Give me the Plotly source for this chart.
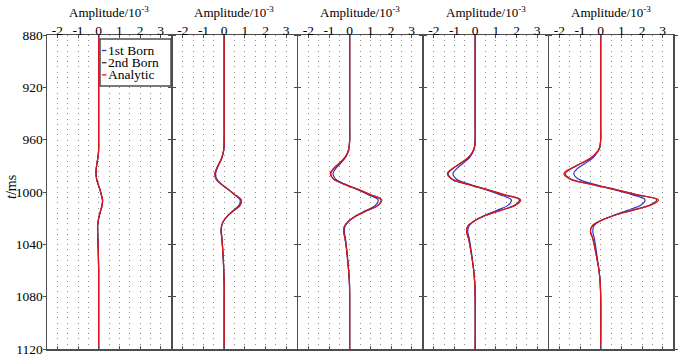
import plotly.graph_objects as go

time_ms = [880, 950, 960, 966, 970, 974, 978, 982, 986, 990, 994, 998, 1002, 1006,
           1010, 1014, 1018, 1022, 1026, 1030, 1036, 1044, 1052, 1060, 1070, 1080, 1120]

x_ticks = [-2, -1, 0, 1, 2, 3]
y_ticks = [880, 920, 960, 1000, 1040, 1080, 1120]
series_names = ["1st Born", "2nd Born", "Analytic"]

# panel 1
born1_p1 = [0, 0, 0, 0, -0.01, -0.04, -0.08, -0.11, -0.12, -0.1, -0.03, 0.06, 0.12, 0.18, 0.16, 0.1, 0.03, -0.02, -0.05, -0.05, -0.04, -0.02, -0.01, 0, 0, 0, 0]
born2_p1 = [0, 0, 0, 0, -0.01, -0.04, -0.08, -0.12, -0.13, -0.1, -0.03, 0.06, 0.13, 0.19, 0.17, 0.1, 0.03, -0.02, -0.05, -0.05, -0.04, -0.02, -0.01, 0, 0, 0, 0]
analytic_p1 = [0, 0, 0, 0, -0.01, -0.04, -0.08, -0.12, -0.13, -0.1, -0.03, 0.06, 0.13, 0.19, 0.17, 0.1, 0.03, -0.02, -0.05, -0.05, -0.04, -0.02, -0.01, 0, 0, 0, 0]
# panel 2
born1_p2 = [0, 0, 0, -0.01, -0.04, -0.11, -0.22, -0.34, -0.41, -0.36, -0.13, 0.19, 0.49, 0.77, 0.72, 0.45, 0.17, -0.02, -0.12, -0.14, -0.1, -0.07, -0.04, -0.02, 0, 0, 0]
born2_p2 = [0, 0, 0, -0.01, -0.05, -0.12, -0.24, -0.36, -0.44, -0.39, -0.15, 0.2, 0.51, 0.82, 0.77, 0.48, 0.18, -0.02, -0.13, -0.15, -0.11, -0.07, -0.04, -0.02, 0, 0, 0]
analytic_p2 = [0, 0, 0, -0.01, -0.05, -0.12, -0.24, -0.37, -0.45, -0.4, -0.15, 0.2, 0.52, 0.83, 0.78, 0.48, 0.18, -0.02, -0.13, -0.15, -0.11, -0.07, -0.04, -0.02, 0, 0, 0]
# panel 3
born1_p3 = [0, 0, 0, -0.03, -0.09, -0.22, -0.43, -0.67, -0.81, -0.69, -0.24, 0.36, 0.9, 1.38, 1.26, 0.8, 0.32, -0.02, -0.22, -0.26, -0.2, -0.14, -0.09, -0.05, -0.01, 0, 0]
born2_p3 = [0, 0, 0, -0.03, -0.1, -0.25, -0.49, -0.76, -0.92, -0.78, -0.27, 0.4, 0.99, 1.52, 1.38, 0.87, 0.35, -0.02, -0.25, -0.29, -0.22, -0.15, -0.1, -0.05, -0.01, 0, 0]
analytic_p3 = [0, 0, 0, -0.03, -0.1, -0.25, -0.5, -0.78, -0.94, -0.8, -0.28, 0.4, 1.0, 1.55, 1.4, 0.88, 0.35, -0.02, -0.25, -0.29, -0.22, -0.15, -0.1, -0.05, -0.01, 0, 0]
# panel 4
born1_p4 = [0, 0, 0, -0.03, -0.12, -0.29, -0.58, -0.88, -1.08, -0.92, -0.3, 0.47, 1.18, 1.75, 1.6, 1.05, 0.45, -0.02, -0.3, -0.36, -0.28, -0.2, -0.13, -0.07, -0.02, 0, 0]
born2_p4 = [0, 0, 0, -0.04, -0.15, -0.35, -0.7, -1.07, -1.31, -1.12, -0.39, 0.54, 1.37, 2.14, 1.93, 1.22, 0.49, -0.02, -0.35, -0.41, -0.31, -0.22, -0.14, -0.07, -0.02, 0, 0]
analytic_p4 = [0, 0, 0, -0.04, -0.15, -0.36, -0.72, -1.1, -1.35, -1.15, -0.4, 0.55, 1.4, 2.2, 1.98, 1.25, 0.5, -0.02, -0.36, -0.42, -0.32, -0.22, -0.14, -0.07, -0.02, 0, 0]
# panel 5
born1_p5 = [0, 0, 0, -0.04, -0.17, -0.38, -0.75, -1.12, -1.3, -1.08, -0.35, 0.6, 1.5, 2.15, 1.95, 1.3, 0.6, 0.0, -0.33, -0.38, -0.3, -0.22, -0.15, -0.08, -0.02, 0, 0]
born2_p5 = [0, 0, 0, -0.05, -0.2, -0.47, -0.93, -1.41, -1.72, -1.45, -0.48, 0.68, 1.7, 2.72, 2.38, 1.5, 0.63, 0.0, -0.41, -0.49, -0.37, -0.26, -0.17, -0.08, -0.02, 0, 0]
analytic_p5 = [0, 0, 0, -0.05, -0.2, -0.48, -0.95, -1.45, -1.78, -1.5, -0.5, 0.7, 1.75, 2.8, 2.45, 1.55, 0.65, 0.0, -0.42, -0.5, -0.38, -0.27, -0.17, -0.08, -0.02, 0, 0]

panels = [
    (born1_p1, born2_p1, analytic_p1),
    (born1_p2, born2_p2, analytic_p2),
    (born1_p3, born2_p3, analytic_p3),
    (born1_p4, born2_p4, analytic_p4),
    (born1_p5, born2_p5, analytic_p5),
]

COLORS = ["#3434d0", "#333333", "#e8141c"]
FRAME = "#4d4d4d"
SERIF = "Liberation Serif"

W, H = 683, 359
ML, MR, MT, MB = 47, 10, 35, 10
plot_w = W - ML - MR
plot_h = H - MT - MB
n = len(panels)
gap = 1.5
pw = (plot_w - gap * (n - 1)) / n


def px(xp):
    return (xp - ML) / plot_w


def py(yp):
    return 1 - (yp - MT) / plot_h


fig = go.Figure()
layout = {}
for i, series in enumerate(panels):
    k = "" if i == 0 else str(i + 1)
    xa, ya = "x" + k, "y" + k
    for vals, col, name in zip(series, COLORS, series_names):
        fig.add_trace(go.Scatter(x=vals, y=time_ms, mode="lines", xaxis=xa, yaxis=ya, name=name,
                                 line=dict(color=col, width=1.2, shape="spline", smoothing=1.0),
                                 showlegend=False, hoverinfo="skip"))
    d0 = (i * (pw + gap)) / plot_w
    d1 = min((i * (pw + gap) + pw) / plot_w, 1)
    layout["xaxis" + k] = dict(
        domain=[d0, d1], range=[-2.5, 3.5], side="top", anchor=ya, automargin=False,
        tickvals=x_ticks, ticktext=[str(v) for v in x_ticks],
        ticks="inside", ticklen=3, tickcolor=FRAME, ticklabelstandoff=-7,
        showline=True, mirror="ticks", linecolor=FRAME, linewidth=1.5,
        showgrid=True, gridcolor="#8a8a8a", gridwidth=1, griddash="1px,4.23px",
        minor=dict(dtick=0.5, tick0=0, showgrid=True, gridcolor="#8a8a8a", gridwidth=1,
                   griddash="1px,4.23px", ticks=""),
        zeroline=False, tickfont=dict(family=SERIF, size=13.5, color="black"),
    )
    layout["yaxis" + k] = dict(
        domain=[0, 1], range=[1120, 880], anchor=xa, automargin=False,
        tickvals=y_ticks, ticks="outside", ticklen=3, tickcolor=FRAME, ticklabelstandoff=-3,
        showline=True, mirror="ticks", linecolor=FRAME, linewidth=1.5,
        showgrid=False, zeroline=False, showticklabels=(i == 0),
        tickfont=dict(family=SERIF, size=13.5, color="black"),
    )
    fig.add_annotation(xref="paper", yref="paper", x=(d0 + d1) / 2, y=py(12.5),
                       xanchor="center", yanchor="middle", showarrow=False,
                       text="Amplitude/10<sup>-3</sup>",
                       font=dict(family=SERIF, size=13, color="black"))

fig.update_layout(**layout)

# y-axis title
fig.add_annotation(xref="paper", yref="paper", x=px(11), y=py(187), textangle=-90,
                   xanchor="center", yanchor="middle", showarrow=False,
                   text="<i>t</i>/ms", font=dict(family=SERIF, size=14, color="black"))

# legend box (inside first panel)
box_x0, box_x1, box_y0, box_y1 = 100, 47 + pw, 39, 86
fig.add_shape(type="rect", xref="paper", yref="paper", x0=px(box_x0), x1=px(box_x1),
              y0=py(box_y1), y1=py(box_y0), line=dict(color=FRAME, width=1.5), fillcolor="white",
              layer="above")
for j, (name, col) in enumerate(zip(series_names, COLORS)):
    yc = 50.5 + j * 12.2
    fig.add_shape(type="line", xref="paper", yref="paper", x0=px(102), x1=px(106.5),
                  y0=py(yc), y1=py(yc), line=dict(color=col, width=1.3), layer="above")
    fig.add_annotation(xref="paper", yref="paper", x=px(106.5), y=py(yc), xanchor="left",
                       yanchor="middle", showarrow=False, text=name, borderpad=0,
                       font=dict(family=SERIF, size=13.5, color="black"))

fig.update_layout(width=W, height=H, margin=dict(l=ML, r=MR, t=MT, b=MB),
                  plot_bgcolor="white", paper_bgcolor="white", showlegend=False,
                  font=dict(family=SERIF))
fig.write_html("out.html", config={"displayModeBar": False, "staticPlot": True},
               post_script="document.body.style.margin='0';document.body.style.padding='0';"
                           "document.body.style.overflow='hidden';")
